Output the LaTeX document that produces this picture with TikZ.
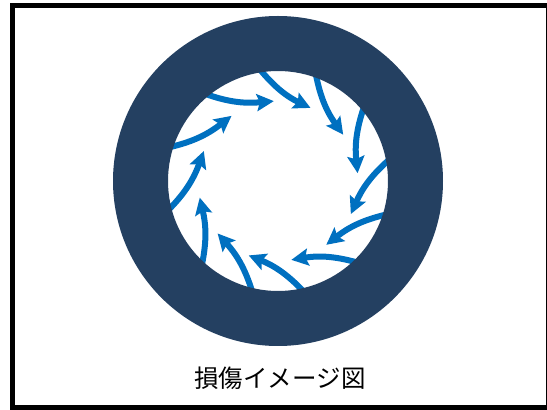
\documentclass[tikz,border=0pt]{standalone}
\usepackage{fontspec}
\newfontfamily\jpfont{Noto Sans CJK JP}
\usetikzlibrary{arrows.meta,calc}
\definecolor{ringnavy}{RGB}{36,64,97}
\definecolor{arrowblue}{RGB}{0,112,192}
\tikzset{
  swirl/.style={draw=arrowblue, line width=6pt, -{Stealth[length=17pt,width=17pt,inset=3pt]}},
  frame/.style={draw=black, line width=5pt},
  caption/.style={font=\jpfont\fontsize{24.5}{28}\selectfont, text=black, inner sep=0pt}
}
\begin{document}
\begin{tikzpicture}[x=1pt,y=1pt]
\useasboundingbox (0,0) rectangle (547,410);
\fill[white] (0,0) rectangle (547,410);
\coordinate (C) at (278,229);
% swirling arrows
\foreach \i/\a/\b in {1/99.5/66, 2/70.7/35.4, 3/40.9/5.6, 4/11.1/-24.4, 5/-17/-52.9, 6/-45.7/-80.4, 7/-76.8/-111.5, 8/-103/-139, 9/-132/-168, 10/-165/-202, 11/162.8/125.5, 12/130/93}{
  \coordinate (t\i) at ($(C)+(\a:114)$);
  \coordinate (h\i) at ($(C)+(\b:80)$);
  \pgfmathsetmacro{\o}{\a-150}
  \pgfmathsetmacro{\n}{\a+55}
  \draw[swirl] (t\i) to[out=\o, in=\n] (h\i);
}
% ring
\fill[ringnavy, even odd rule] (C) circle[radius=165] (C) circle[radius=110];
% caption
\node[caption] (cap) at (280,32) {損傷イメージ図};
% frame
\begin{scope}
\clip (0,0) rectangle (547,410);
\draw[frame] (12.5,2) rectangle (548,404.5);
\end{scope}
\end{tikzpicture}
\end{document}
